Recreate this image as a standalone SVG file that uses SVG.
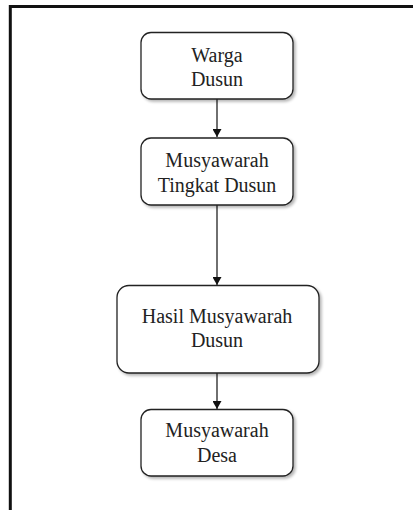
<svg xmlns="http://www.w3.org/2000/svg" width="413" height="510" viewBox="0 0 413 510">
<defs>
<marker id="ah" viewBox="0 0 8 9" refX="8" refY="4.5" markerWidth="8" markerHeight="9" markerUnits="userSpaceOnUse" orient="auto">
<path d="M0,0 L8,4.5 L0,9 Z" fill="#111"/>
</marker>
<filter id="sh" x="-10%" y="-10%" width="125%" height="130%">
<feGaussianBlur in="SourceAlpha" stdDeviation="1.5"/>
<feOffset dx="1.5" dy="1.5" result="b"/>
<feComponentTransfer><feFuncA type="linear" slope="0.3"/></feComponentTransfer>
<feMerge><feMergeNode/><feMergeNode in="SourceGraphic"/></feMerge>
</filter>
</defs>
<style>
.box{fill:#fff;stroke:#222;stroke-width:1.3;filter:url(#sh)}
.t{font-family:"Liberation Serif","Times New Roman",serif;font-size:20px;fill:#222;text-anchor:middle}
.c{stroke:#222;stroke-width:1.3;fill:none;marker-end:url(#ah)}
</style>
<rect width="413" height="510" fill="#fff"/>
<path d="M10.3,510 V6.5 H413" fill="none" stroke="#111" stroke-width="3"/>
<g id="connectors">
<line class="c" x1="217" y1="99" x2="217" y2="137"/>
<line class="c" x1="217" y1="205" x2="217" y2="285"/>
<line class="c" x1="217" y1="373" x2="217" y2="409"/>
</g>
<g id="warga-dusun">
<rect class="box" x="141" y="32.5" width="152" height="66.5" rx="10"/>
<text class="t" x="217" y="62">Warga</text>
<text class="t" x="217" y="86">Dusun</text>
</g>
<g id="musyawarah-tingkat-dusun">
<rect class="box" x="141" y="138" width="152" height="67" rx="10"/>
<text class="t" x="217" y="167">Musyawarah</text>
<text class="t" x="217" y="192">Tingkat Dusun</text>
</g>
<g id="hasil-musyawarah-dusun">
<rect class="box" x="117" y="285.5" width="202" height="87.5" rx="12"/>
<text class="t" x="217" y="323">Hasil Musyawarah</text>
<text class="t" x="217" y="347">Dusun</text>
</g>
<g id="musyawarah-desa">
<rect class="box" x="141" y="409.5" width="152" height="66.5" rx="10"/>
<text class="t" x="217" y="437">Musyawarah</text>
<text class="t" x="217" y="462">Desa</text>
</g>
</svg>
